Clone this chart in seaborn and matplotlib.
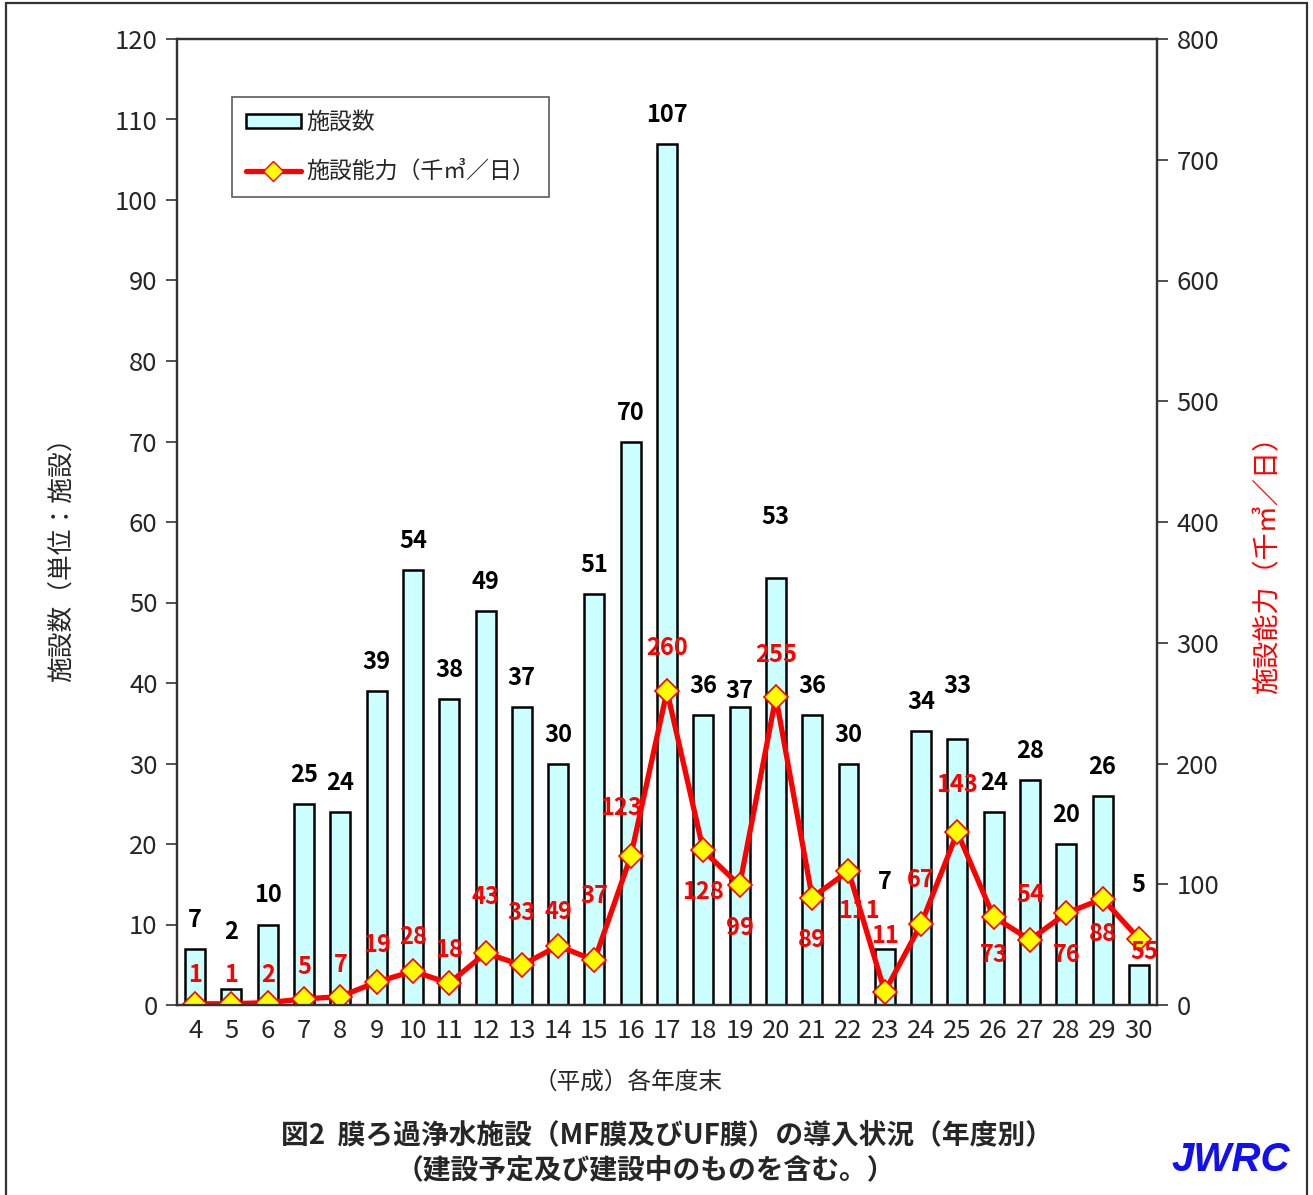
import numpy as np
import matplotlib
matplotlib.use('Agg')
import matplotlib.pyplot as plt
import seaborn as sns
from matplotlib.patches import Rectangle, Patch
from matplotlib.lines import Line2D

# data (Heisei fiscal years)
years = ['4', '5', '6', '7', '8', '9', '10', '11', '12', '13', '14', '15', '16', '17',
         '18', '19', '20', '21', '22', '23', '24', '25', '26', '27', '28', '29', '30']
facilities = [7, 2, 10, 25, 24, 39, 54, 38, 49, 37, 30, 51, 70, 107,
              36, 37, 53, 36, 30, 7, 34, 33, 24, 28, 20, 26, 5]
capacity = [1, 1, 2, 5, 7, 19, 28, 18, 43, 33, 49, 37, 123, 260,
            128, 99, 255, 89, 111, 11, 67, 143, 73, 54, 76, 88, 55]

# label offsets in pixels (up = positive)
bar_label_dy = {1: 57, 15: 16, 16: 61, 19: 67, 21: 53, 26: 80}
line_label_off = {0: (0, 29), 1: (0, 29), 2: (0, 28), 3: (0, 32), 4: (0, 32),
                  5: (0, 37), 6: (0, 34), 7: (0, 33), 8: (0, 56), 9: (0, 52),
                  10: (0, 34), 11: (0, 64), 12: (-10, 48), 13: (0, 43),
                  14: (0, -42), 15: (0, -43), 16: (0, 42), 17: (0, -42),
                  18: (10, -40), 19: (0, 56), 20: (0, 44), 21: (0, 47),
                  22: (0, -38), 23: (0, 45), 24: (0, -42), 25: (0, -35),
                  26: (6, -13)}

sns.set_style('white')
plt.rcParams['font.family'] = ['Noto Sans CJK JP', 'DejaVu Sans']

bar_color = '#CCFFFF'
red = '#FF0000'

fig = plt.figure(figsize=(13.13, 11.95), dpi=100)
ax = fig.add_axes([177 / 1313, 1 - 1005 / 1195, 980 / 1313, 966 / 1195])

sns.barplot(x=years, y=facilities, ax=ax, color=bar_color, edgecolor='black',
            linewidth=1.8, width=0.55, saturation=1)
ax.set_xlim(-0.5, len(years) - 0.5)
ax.set_ylim(0, 120)
ax.set_yticks(np.arange(0, 121, 10))
ax.set_xlabel('')
ax.set_ylabel('')

# category boundary ticks pointing inward
ax.set_xticks(np.arange(len(years)) + 0.5, minor=True)
ax.tick_params(axis='x', which='major', length=0, labelsize=18.5, pad=9)
ax.tick_params(axis='x', which='minor', direction='in', length=8, width=1.2, color='#333333')
ax.tick_params(axis='y', direction='out', length=8, width=1.2, color='#333333',
               labelsize=18.5, pad=6, left=True)
for s in ax.spines.values():
    s.set_color('#333333')
    s.set_linewidth(1.6)

for i, v in enumerate(facilities):
    dy = bar_label_dy.get(i, 29)
    ax.annotate(str(v), (i, v), xytext=(0, dy), textcoords='offset pixels',
                ha='center', va='center', fontsize=17, fontweight='bold', color='black')

ax2 = ax.twinx()
x_pos = np.arange(len(years))
sns.lineplot(x=x_pos, y=capacity, ax=ax2, color=red, linewidth=3.8, marker='D',
             markersize=12, markerfacecolor='#FFFF00', markeredgecolor=red,
             markeredgewidth=1.2)
ax2.set_ylim(0, 800)
ax2.set_yticks(np.arange(0, 801, 100))
ax2.set_xlim(-0.5, len(years) - 0.5)
ax2.tick_params(axis='y', direction='out', length=8, width=1.2, color='#333333',
                labelsize=18.5, pad=6, right=True)
ax2.set_ylabel('')
for s in ax2.spines.values():
    s.set_color('#333333')
    s.set_linewidth(1.6)

for i, v in enumerate(capacity):
    dx, dy = line_label_off.get(i, (0, 30))
    ax2.annotate(str(v), (i, v), xytext=(dx, dy), textcoords='offset pixels',
                 ha='center', va='center', fontsize=17, fontweight='bold', color=red)

# legend
handles = [Patch(facecolor=bar_color, edgecolor='black', linewidth=1.8),
           Line2D([0], [0], color=red, linewidth=3.8, marker='D', markersize=10,
                  markerfacecolor='#FFFF00', markeredgecolor=red)]
leg = ax2.legend(handles, ['施設数', '施設能力（千㎥／日）'], loc='upper left',
                 bbox_to_anchor=(0.056, 0.94), fontsize=16.5, frameon=True,
                 fancybox=False, edgecolor='#333333', borderpad=0.6,
                 labelspacing=1.15, handlelength=2.4, handleheight=0.55,
                 handletextpad=0.25, borderaxespad=0)
leg.get_frame().set_linewidth(1.2)

# axis titles
fig.text(63 / 1313, 1 - 553 / 1195, '施設数（単位：施設）', rotation=90,
         ha='center', va='center', fontsize=18.5)
fig.text(1268 / 1313, 1 - 558 / 1195, '施設能力（千㎥／日）', rotation=90,
         ha='center', va='center', fontsize=19.5, color=red)
fig.text(628 / 1313, 1 - 1082 / 1195, '（平成）各年度末', ha='center', va='center',
         fontsize=17)

# caption
fig.text(667 / 1313, 1 - 1135 / 1195, '図2  膜ろ過浄水施設（MF膜及びUF膜）の導入状況（年度別）',
         ha='center', va='center', fontsize=20, fontweight='bold')
fig.text(645 / 1313, 1 - 1170 / 1195, '（建設予定及び建設中のものを含む。）',
         ha='center', va='center', fontsize=20, fontweight='bold')
fig.text(1231 / 1313, 1 - 1160 / 1195, 'JWRC', ha='center', va='center',
         fontsize=29, fontweight='bold', fontstyle='italic', color='#1010F0',
         family='Liberation Sans')

# outer frame
fig.patches.append(Rectangle((6 / 1313, -0.01), 1301 / 1313, 1 - 3 / 1195 + 0.01,
                             transform=fig.transFigure, fill=False,
                             edgecolor='#333333', linewidth=1.6))

fig.savefig('out.png', dpi=100)
